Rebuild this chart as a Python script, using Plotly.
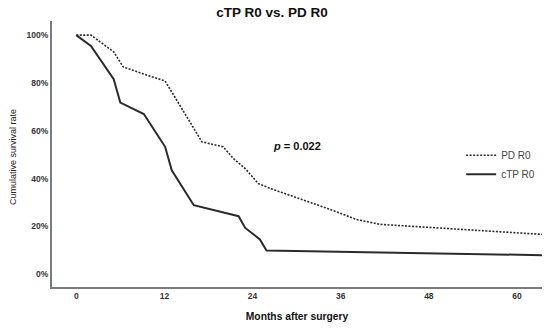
import plotly.graph_objects as go

# Data (months, cumulative survival %)
ctp_months = [0, 2, 5.1, 6, 9.2, 12.1, 13, 16, 22.1, 23, 25, 25.9, 63.4]
ctp_surv = [100, 95.5, 81.6, 71.8, 67, 53.3, 43.5, 28.9, 24.3, 19.4, 14.6, 10, 8]

pd_months = [0, 2, 5.1, 6.4, 9.2, 12.1, 17.1, 20, 21.4, 23, 24.8, 26.5, 33.6, 38.2, 41.3, 48.2, 63.4]
pd_surv = [100, 100, 93, 86.7, 83.7, 80.8, 55.4, 53.3, 48.4, 44.2, 37.9, 35.8, 28.2, 22.9, 20.9, 19.5, 16.7]

x_ticks = [0, 12, 24, 36, 48, 60]
y_ticks = [0, 20, 40, 60, 80, 100]
y_tick_labels = ["0%", "20%", "40%", "60%", "80%", "100%"]

FONT = "Liberation Sans, Arial, sans-serif"
LINE = "#2b2b2b"
AXIS = "#7a7a7a"

fig = go.Figure()
fig.add_trace(go.Scatter(x=pd_months, y=pd_surv, mode="lines", name="PD R0",
                         line=dict(color=LINE, width=1.6, dash="2px,1.5px")))
fig.add_trace(go.Scatter(x=ctp_months, y=ctp_surv, mode="lines", name="cTP R0",
                         line=dict(color=LINE, width=2)))

fig.update_layout(
    width=550, height=329,
    margin=dict(l=52, r=8, t=21, b=42),
    paper_bgcolor="white", plot_bgcolor="white",
    font=dict(family=FONT, color="#222"),
    title=dict(text="<b>cTP R0 vs. PD R0</b>", x=272/550, xanchor="center",
               y=1 - 12/329, yanchor="middle", font=dict(size=13.5, color="#111")),
    xaxis=dict(range=[-3.3, 63.4], tickvals=x_ticks, showgrid=False, zeroline=False,
               showline=True, linecolor=AXIS, linewidth=2, ticks="",
               tickfont=dict(size=8.5, color="#333", family=FONT, weight="bold"),
               title=dict(text="<b>Months after surgery</b>", font=dict(size=10.3, color="#111"),
                          standoff=13)),
    yaxis=dict(range=[-5.3, 105.9], tickvals=y_ticks, ticktext=y_tick_labels, showgrid=False,
               zeroline=False, showline=True, linecolor=AXIS, linewidth=2, ticks="",
               tickfont=dict(size=8.5, color="#333", family=FONT, weight="bold")),
    legend=dict(x=0.835, y=0.55, xanchor="left", yanchor="top", bgcolor="rgba(0,0,0,0)",
                font=dict(size=10, color="#444"), itemwidth=30, tracegroupgap=0),
    annotations=[
        dict(text="<b><i>p</i> = 0.022</b>", xref="paper", yref="paper",
             x=0.5, y=0.53, showarrow=False, font=dict(size=11, color="#111")),
        dict(text="Cumulative survival rate", xref="paper", yref="paper",
             x=-(52 - 13) / 490, y=(287 - 157) / 266, xanchor="center", yanchor="middle",
             textangle=-90, showarrow=False, font=dict(size=9, color="#222")),
    ],
)

fig.write_html("out.html", config={"displayModeBar": False},
               post_script="document.body.style.margin='0';")
